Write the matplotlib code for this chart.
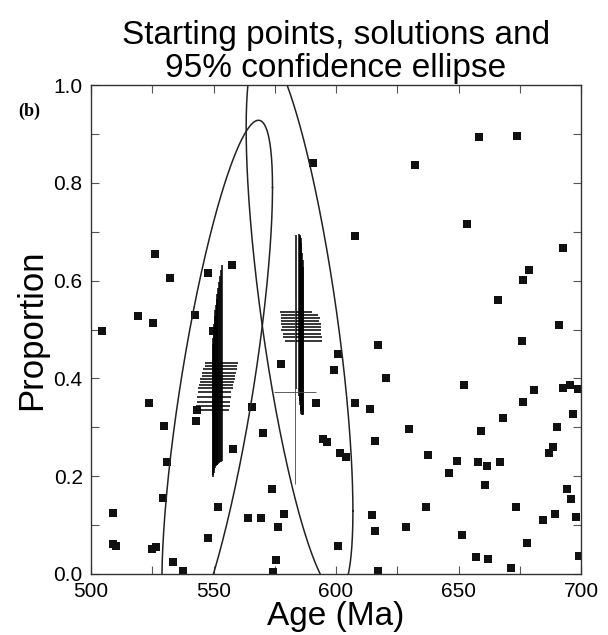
import numpy as np
import matplotlib.pyplot as plt

# starting points (age in Ma, proportion)
start_age = [590.6, 607.8, 658.4, 673.9, 632.2, 653.5, 692.7, 526.1, 532.2, 557.6,
             547.8, 519.2, 525.3, 504.5, 542.4, 549.8, 523.7, 543.3, 617.1, 600.8,
             577.6, 599.2, 620.4, 565.7, 591.8, 607.8, 613.9, 678.8, 676.3, 666.1,
             691.0, 675.9, 652.2, 680.8, 692.7, 695.5, 698.8, 676.3, 542.9, 529.8,
             558.0, 531.0, 529.4, 509.0, 551.8, 564.1, 509.0, 510.2, 524.9, 526.5,
             547.8, 533.5, 537.6, 570.2, 594.7, 596.3, 615.9, 601.6, 604.1, 629.8,
             573.9, 569.4, 578.8, 576.3, 614.7, 615.9, 628.6, 600.8, 575.5, 574.3,
             617.1, 696.7, 668.2, 690.2, 659.2, 688.6, 686.9, 637.6, 649.4, 658.0,
             661.6, 666.9, 646.1, 660.8, 694.3, 695.9, 636.7, 673.5, 684.5, 689.4,
             698.0, 651.4, 678.0, 657.1, 662.0, 671.4, 699.2]
start_prop = [0.841, 0.692, 0.894, 0.896, 0.837, 0.715, 0.666, 0.654, 0.605, 0.631,
              0.615, 0.527, 0.513, 0.497, 0.530, 0.497, 0.350, 0.336, 0.468, 0.450,
              0.430, 0.418, 0.401, 0.342, 0.350, 0.350, 0.338, 0.621, 0.601, 0.560,
              0.509, 0.477, 0.387, 0.377, 0.381, 0.387, 0.379, 0.352, 0.312, 0.303,
              0.255, 0.230, 0.155, 0.124, 0.138, 0.114, 0.061, 0.057, 0.051, 0.055,
              0.073, 0.024, 0.006, 0.289, 0.277, 0.269, 0.271, 0.248, 0.240, 0.297,
              0.173, 0.114, 0.122, 0.096, 0.120, 0.088, 0.096, 0.057, 0.029, 0.004,
              0.006, 0.328, 0.320, 0.301, 0.293, 0.259, 0.248, 0.244, 0.232, 0.228,
              0.220, 0.228, 0.206, 0.181, 0.173, 0.153, 0.138, 0.136, 0.110, 0.122,
              0.116, 0.079, 0.063, 0.035, 0.031, 0.012, 0.037]

# solutions with 1-sigma errors, first component
sol1_age = [553.3, 553.0, 552.6, 552.2, 551.9, 551.6, 551.3, 551.0, 550.8, 550.5,
            550.2, 550.0, 549.8, 549.6]
sol1_prop = [0.432, 0.426, 0.419, 0.412, 0.404, 0.398, 0.392, 0.386, 0.380, 0.372,
             0.362, 0.352, 0.343, 0.335]
sol1_age_err = [6.8, 6.6, 6.9, 7.0, 6.8, 7.1, 7.0, 6.9, 7.1, 6.8, 6.9, 6.7, 7.0, 6.6]
sol1_prop_err = [0.200, 0.196, 0.190, 0.185, 0.180, 0.175, 0.170, 0.165, 0.160, 0.155,
                 0.150, 0.145, 0.140, 0.136]

# second component
sol2_age = [583.5, 585.0, 585.4, 585.3, 585.7, 585.9, 585.6, 586.1, 586.4, 586.6]
sol2_prop = [0.536, 0.530, 0.524, 0.518, 0.512, 0.505, 0.498, 0.491, 0.484, 0.477]
sol2_age_err = [6.5, 7.5, 7.9, 7.6, 8.0, 7.8, 8.1, 7.7, 7.9, 7.6]
sol2_prop_err = [0.158, 0.165, 0.170, 0.173, 0.176, 0.172, 0.170, 0.166, 0.158, 0.150]

# odd solution drawn thin
sol3_age = [583.3]
sol3_prop = [0.373]
sol3_age_err = [8.6]
sol3_prop_err = [0.19]

# 95% confidence ellipses: centre, sd of age, sd of proportion, correlation
ell_center = [(551.5, 0.387), (585.1, 0.52)]
ell_sd = [(9.22, 0.221), (8.9, 0.2286)]
ell_corr = [0.746, -0.70]
chi2_95 = 5.991


def ellipse_xy(center, sd, rho, n=400):
    cov = np.array([[sd[0] ** 2, rho * sd[0] * sd[1]],
                    [rho * sd[0] * sd[1], sd[1] ** 2]])
    L = np.linalg.cholesky(cov * chi2_95)
    t = np.linspace(0, 2 * np.pi, n)
    pts = L @ np.vstack([np.cos(t), np.sin(t)])
    return center[0] + pts[0], center[1] + pts[1]


plt.rcParams['font.family'] = ['Liberation Sans', 'DejaVu Sans']

fig = plt.figure(figsize=(6.08, 6.35), dpi=100)
ax = fig.add_axes([0.1497, 0.0961, 0.806, 0.7700])

ax.plot(start_age, start_prop, 's', color='#111111', markersize=5.2, markeredgewidth=0)

for c, sd, r in zip(ell_center, ell_sd, ell_corr):
    ex, ey = ellipse_xy(c, sd, r)
    ax.plot(ex, ey, color='#222222', lw=1.1)

ax.errorbar(sol1_age, sol1_prop, xerr=sol1_age_err, yerr=sol1_prop_err,
            fmt='none', ecolor='black', elinewidth=1.1, capsize=0)
ax.errorbar(sol2_age, sol2_prop, xerr=sol2_age_err, yerr=sol2_prop_err,
            fmt='none', ecolor='black', elinewidth=1.1, capsize=0)
ax.errorbar(sol3_age, sol3_prop, xerr=sol3_age_err, yerr=sol3_prop_err,
            fmt='none', ecolor='#444444', elinewidth=0.6, capsize=0)

ax.set_xlim(500, 700)
ax.set_ylim(0, 1)
ax.set_xticks(np.arange(500, 701, 50))
ax.set_xticks(np.arange(525, 700, 50), minor=True)
ax.set_yticks(np.arange(0, 1.01, 0.2))
ax.set_yticks(np.arange(0.1, 1.0, 0.2), minor=True)
ax.set_yticklabels(['0.0', '0.2', '0.4', '0.6', '0.8', '1.0'])
ax.tick_params(which='both', direction='in', top=True, right=True,
               length=6, width=0.8, color='#555555', labelsize=15, pad=6)
for s in ax.spines.values():
    s.set_color('#333333')
    s.set_linewidth(1.0)

ax.set_xlabel('Age (Ma)', fontsize=24, labelpad=0)
ax.set_ylabel('Proportion', fontsize=25, labelpad=4)
ax.set_title('Starting points, solutions and\n95% confidence ellipse',
             fontsize=24, pad=6, linespacing=1.05)
fig.text(0.03, 0.818, '(b)', fontsize=13, fontweight='bold', family='Liberation Serif')

fig.savefig('out.png', dpi=100)
